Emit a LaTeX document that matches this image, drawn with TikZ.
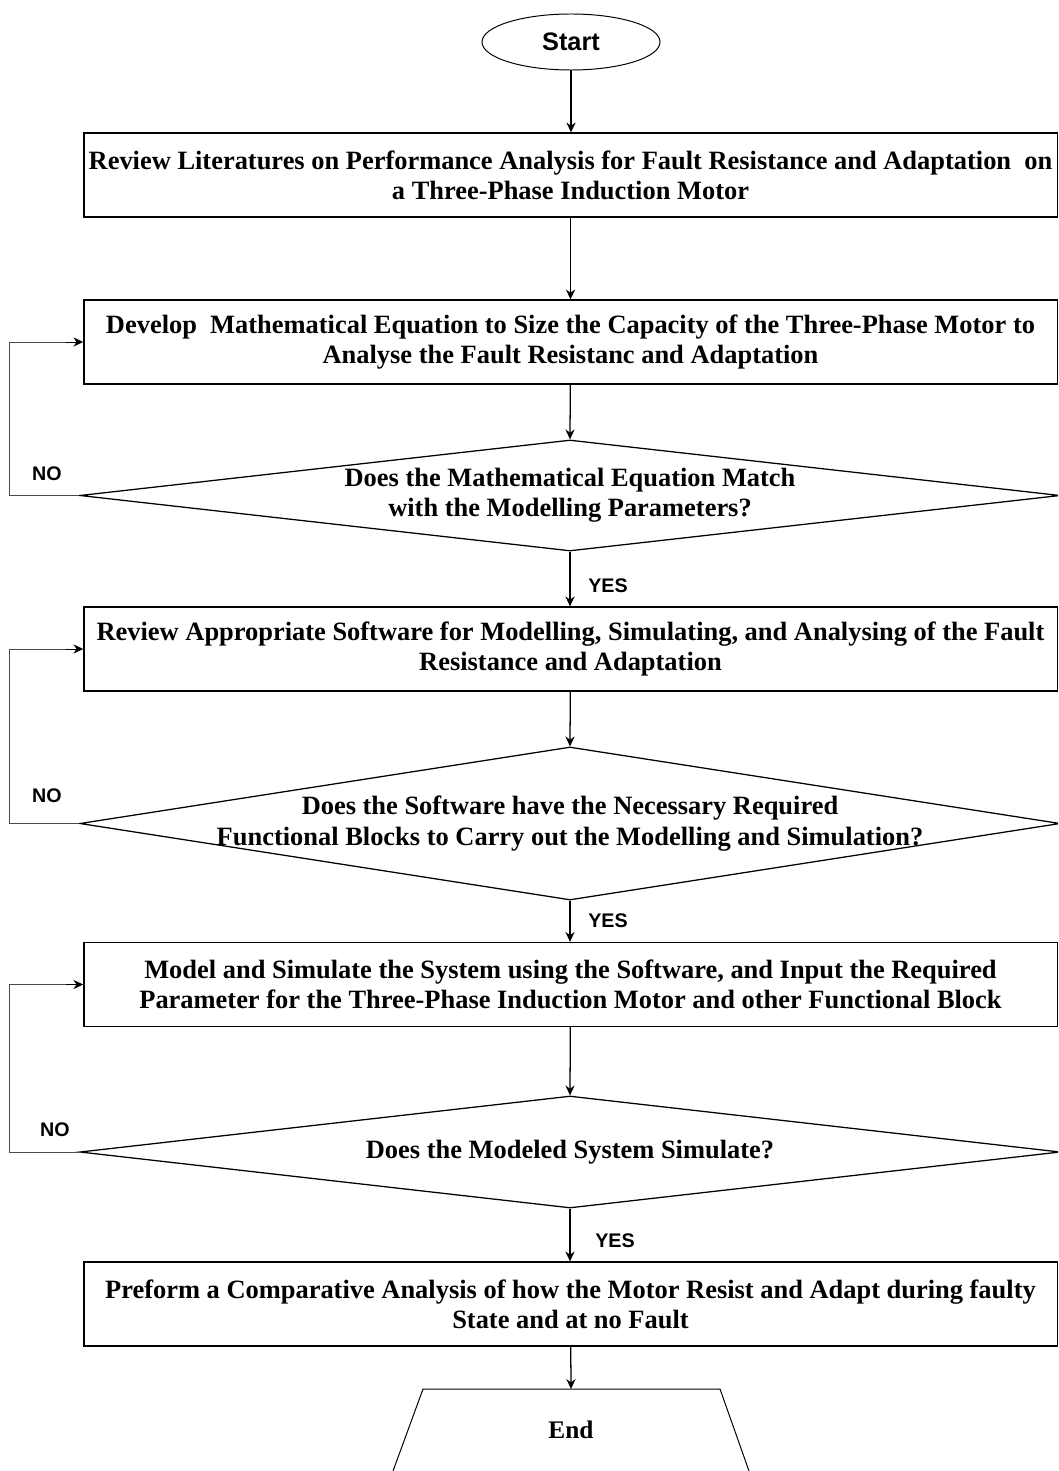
\documentclass[tikz,border=0pt]{standalone}
\usepackage{fontspec}
\setmainfont{Liberation Serif}
\setsansfont{Liberation Sans}
\usepackage{tikz}
\usetikzlibrary{arrows.meta,shapes,positioning,calc}

\tikzset{
  >={Stealth[length=7pt,width=6.5pt]},
  process/.style={draw, line width=0.9pt, rectangle, minimum width=24.325cm, minimum height=2.1cm, inner sep=1pt, align=center, font=\fontsize{18.8}{21.5}\selectfont\bfseries},
  decision/.style={draw, line width=0.9pt, diamond, aspect=9, minimum width=24.5cm, inner sep=0pt},
  qtext/.style={align=center, font=\fontsize{18.8}{21.5}\selectfont\bfseries},
  terminal/.style={draw, line width=0.7pt, ellipse, minimum width=4.45cm, minimum height=1.4cm, font=\sffamily\fontsize{18}{20}\selectfont\bfseries},
  endtext/.style={font=\fontsize{18}{20}\selectfont\bfseries},
  flow/.style={->, line width=0.9pt},
  loopline/.style={line width=0.6pt, draw=black!70},
  answer/.style={font=\sffamily\fontsize{14}{16}\selectfont\bfseries}
}

\begin{document}
\begin{tikzpicture}[x=0.025cm, y=-0.025cm]
  \clip (0,0) rectangle (1058,1471);
  \useasboundingbox (0,0) rectangle (1058,1471);

  \node[terminal] (start) at (571,42) {Start};
  \node[process] (review) at (570.5,175) {Review Literatures on Performance Analysis for Fault Resistance and Adaptation~ on\\a Three-Phase Induction Motor};
  \node[process] (develop) at (570.5,342) {Develop~ Mathematical Equation to Size the Capacity of the Three-Phase Motor to\\Analyse the Fault Resistanc and Adaptation};
  \node[decision, minimum height=2.775cm] (match) at (570,495.5) {};
  \node[qtext] (matchtxt) at (match) {Does the Mathematical Equation Match\\with the Modelling Parameters?};
  \node[process] (software) at (570.5,649) {Review Appropriate Software for Modelling, Simulating, and Analysing of the Fault\\Resistance and Adaptation};
  \node[decision, minimum height=3.825cm] (blocks) at (570,823.5) {};
  \node[qtext] (blockstxt) at (blocks) {Does the Software have the Necessary Required\\Functional Blocks to Carry out the Modelling and Simulation?};
  \node[process] (model) at (570.5,984.5) {Model and Simulate the System using the Software, and Input the Required\\Parameter for the Three-Phase Induction Motor and other Functional Block};
  \node[decision, minimum height=2.8cm] (sim) at (570,1152) {};
  \node[qtext] (simtxt) at (sim) {Does the Modeled System Simulate?};
  \node[process] (compare) at (570.5,1304) {Preform a Comparative Analysis of how the Motor Resist and Adapt during faulty\\State and at no Fault};

  \coordinate (endtop) at (571,1389);
  \draw[line width=0.7pt] (393,1471) -- (423,1389) -- (720,1389) -- (749,1471);
  \node[endtext] (end) at (571,1430) {End};

  \draw[flow] (start) -- (start |- review.north);
  \draw[flow] (review) -- (review.south |- develop.north);
  \draw[flow] (develop) -- (match.north);
  \draw[flow] (match.south) -- (match.south |- software.north);
  \draw[flow] (software) -- (blocks.north);
  \draw[flow] (blocks.south) -- (blocks.south |- model.north);
  \draw[flow] (model) -- (sim.north);
  \draw[flow] (sim.south) -- (sim.south |- compare.north);
  \draw[flow] (compare) -- (endtop);
  \node[answer] (yes1) at (608,586) {YES};
  \node[answer] (yes2) at (608,921) {YES};
  \node[answer] (yes3) at (615,1241) {YES};

  \draw[loopline] (match.west) -- ++(-70,0) |- ([xshift=-12]develop.west);
  \draw[flow, line width=0.6pt] ([xshift=-12]develop.west) -- (develop.west);
  \draw[loopline] (blocks.west) -- ++(-70,0) |- ([xshift=-12]software.west);
  \draw[flow, line width=0.6pt] ([xshift=-12]software.west) -- (software.west);
  \draw[loopline] (sim.west) -- ++(-70,0) |- ([xshift=-12]model.west);
  \draw[flow, line width=0.6pt] ([xshift=-12]model.west) -- (model.west);
  \node[answer] (no1) at (47,474) {NO};
  \node[answer] (no2) at (47,796) {NO};
  \node[answer] (no3) at (55,1130) {NO};
\end{tikzpicture}
\end{document}
